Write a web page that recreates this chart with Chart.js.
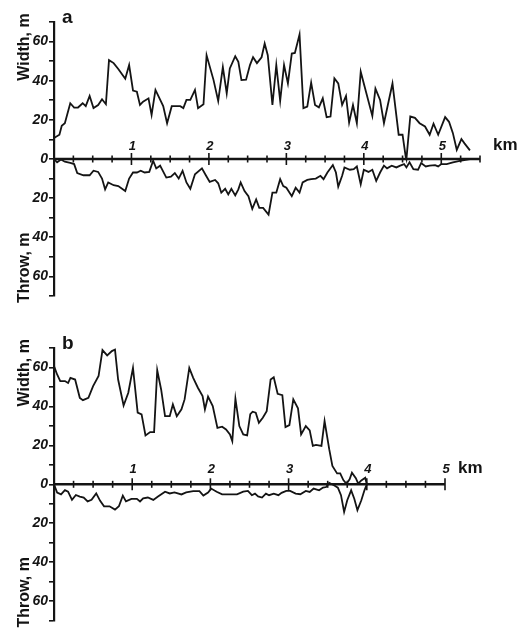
<!DOCTYPE html>
<html>
<head>
<meta charset="utf-8">
<script src="https://cdn.jsdelivr.net/npm/chart.js@4.4.0/dist/chart.umd.min.js"></script>
<style>
  html, body { margin: 0; padding: 0; background: #fff; }
  #wrap { position: relative; width: 526px; height: 630px; }
  canvas { position: absolute; left: 0; }
  #chartA { top: 0; }
  #chartB { top: 320px; }
</style>
</head>
<body>
<div id="wrap">
  <canvas id="chartA" width="526" height="320"></canvas>
  <canvas id="chartB" width="526" height="310"></canvas>
</div>
<script>
// tick labels
const kmLabels = [1, 2, 3, 4, 5];
const depthTicks = [0, 20, 40, 60];

// panel a - width (m) along strike (km)
const aWidthKm = [0, 0.07, 0.10, 0.14, 0.21, 0.26, 0.31, 0.37, 0.41, 0.46, 0.51, 0.57, 0.62, 0.67, 0.71, 0.77, 0.83, 0.92, 0.97, 1.02,
  1.07, 1.11, 1.15, 1.22, 1.26, 1.31, 1.41, 1.46, 1.52, 1.63, 1.67, 1.71, 1.76, 1.82, 1.86, 1.93, 1.97, 2.06, 2.12, 2.18,
  2.23, 2.27, 2.34, 2.38, 2.42, 2.48, 2.53, 2.57, 2.62, 2.68, 2.72, 2.76, 2.82, 2.87, 2.92, 2.97, 3.02, 3.07, 3.11, 3.17,
  3.22, 3.27, 3.32, 3.37, 3.42, 3.47, 3.52, 3.57, 3.62, 3.67, 3.72, 3.77, 3.81, 3.86, 3.91, 3.96, 4.01, 4.11, 4.15, 4.21,
  4.26, 4.31, 4.37, 4.45, 4.50, 4.54, 4.55, 4.60, 4.66, 4.72, 4.79, 4.85, 4.90, 4.96, 5.05, 5.10, 5.15, 5.20, 5.26, 5.30, 5.37];
const aWidthM = [10.7, 12.4, 17, 18.3, 28.5, 26.3, 26.3, 28.5, 27, 32.2, 26, 27.6, 30.5, 28, 50.5, 49, 46, 41, 48, 35,
  34.4, 27.6, 29.3, 31, 22.5, 35.3, 27, 18.3, 27, 27, 26, 30.2, 30.2, 35.3, 26, 28, 53, 40.3, 29.7, 47,
  33.6, 46.3, 52.5, 49.7, 40.3, 40.5, 48, 52, 49, 52, 59, 53, 27.6, 48, 29.7, 48, 38.6, 53.9, 54.2, 63.6,
  26, 26.8, 39, 27.6, 26.4, 31, 21.4, 21.7, 41.2, 38.6, 27.6, 32.2, 18.6, 27.6, 18.3, 44.6, 37, 22, 36, 30.2,
  18.3, 27.6, 38.6, 12.4, 12.4, 1.4, 0, 21.7, 21, 18.3, 16.6, 12.4, 18, 12.4, 21.4, 19, 13.2, 4.7, 10.2, 8, 4.4];

// panel a - throw (m), drawn downwards
const aThrowKm = [0, 0.04, 0.09, 0.14, 0.21, 0.26, 0.30, 0.38, 0.46, 0.51, 0.57, 0.62, 0.66, 0.70, 0.77, 0.83, 0.92, 0.97, 1.02, 1.07,
  1.12, 1.17, 1.23, 1.28, 1.32, 1.37, 1.45, 1.51, 1.56, 1.61, 1.66, 1.71, 1.76, 1.82, 1.91, 1.96, 2.01, 2.08, 2.12, 2.16,
  2.21, 2.25, 2.29, 2.34, 2.38, 2.41, 2.46, 2.51, 2.56, 2.61, 2.65, 2.70, 2.77, 2.82, 2.87, 2.92, 2.96, 3.00, 3.07, 3.12,
  3.17, 3.21, 3.27, 3.32, 3.38, 3.44, 3.48, 3.53, 3.60, 3.64, 3.67, 3.72, 3.75, 3.82, 3.87, 3.91, 3.96, 4.00, 4.06, 4.11,
  4.16, 4.21, 4.26, 4.30, 4.36, 4.42, 4.47, 4.52, 4.55, 4.59, 4.64, 4.70, 4.74, 4.80, 4.85, 4.92, 4.96, 5.00, 5.07, 5.15, 5.24, 5.37];
const aThrowM = [0, 1.7, 0.3, 1.4, 2, 2.6, 7.2, 8.3, 8.3, 6, 6.6, 10, 15.5, 12, 13.4, 13.8, 16.4, 10, 6.9, 6.9,
  6, 6.9, 6.6, 0.9, 4.8, 3.4, 9.5, 9, 7.2, 10, 6, 12, 15.2, 7.8, 4.8, 8.3, 11.7, 10.7, 12.4, 17.2,
  15.2, 18.1, 15.2, 18.6, 15.5, 12, 16.4, 19, 25.5, 20.7, 25, 25, 28.4, 17.2, 17.2, 10.3, 13.8, 14.7, 19, 14.7,
  17.2, 12, 10.7, 10.3, 10, 8.6, 10.3, 6.9, 3.1, 6.9, 14.1, 8.6, 4.3, 5.5, 5.2, 3.8, 12.9, 5.5, 6.6, 5.5,
  11.2, 6.9, 3.4, 4.8, 3.4, 4.3, 3.4, 2.6, 4.3, 1.7, 5.2, 5.5, 2.1, 3.8, 3.4, 3.1, 3.8, 2.6, 2.6, 1.7, 0.9, 0];

// panel b - width (m)
const bWidthKm = [0, 0.04, 0.08, 0.14, 0.18, 0.21, 0.27, 0.33, 0.37, 0.44, 0.50, 0.57, 0.62, 0.68, 0.74, 0.78, 0.82, 0.89, 0.95, 1.01,
  1.07, 1.12, 1.17, 1.23, 1.28, 1.32, 1.37, 1.42, 1.48, 1.52, 1.57, 1.63, 1.67, 1.73, 1.78, 1.84, 1.90, 1.93, 1.97, 2.03,
  2.09, 2.15, 2.20, 2.25, 2.28, 2.32, 2.37, 2.42, 2.47, 2.51, 2.54, 2.58, 2.62, 2.67, 2.72, 2.77, 2.81, 2.86, 2.92, 2.96,
  3.01, 3.06, 3.12, 3.16, 3.22, 3.27, 3.31, 3.35, 3.42, 3.46, 3.52, 3.56, 3.62, 3.66, 3.70, 3.74, 3.78, 3.81, 3.86, 3.89,
  3.93, 3.98, 4.00];
const bWidthM = [60.7, 56.4, 53, 53, 52, 54.7, 53.8, 44.4, 43.2, 44.4, 50.4, 55.6, 68.9, 66.2, 68.4, 69.2, 53.8, 40.5, 47, 59.8,
  36.8, 35.9, 25.1, 26.8, 26.8, 58.6, 48.7, 35, 35, 41, 35, 38.5, 43.6, 59.8, 54.7, 49.6, 45.3, 38.5, 45, 40.2,
  29, 29.6, 28.2, 25.6, 22.2, 44, 29.9, 25.6, 25.1, 36, 37.3, 36.8, 31.6, 34.2, 37.6, 53.8, 55, 46.5, 45.8, 29.4,
  30.4, 43.6, 39, 25.6, 29.9, 27.7, 19.7, 20.2, 19.7, 32.5, 17.9, 9.4, 5.6, 5.6, 2.2, 0.3, 2.6, 6, 3.1, 0.3,
  2, 3.4, 0];

// panel b - throw (m), drawn downwards
const bThrowKm = [0, 0.04, 0.09, 0.14, 0.18, 0.23, 0.28, 0.33, 0.38, 0.43, 0.48, 0.54, 0.59, 0.64, 0.71, 0.78, 0.83, 0.88, 0.92, 0.99,
  1.06, 1.10, 1.14, 1.20, 1.27, 1.33, 1.42, 1.48, 1.54, 1.63, 1.69, 1.78, 1.86, 1.91, 1.97, 2.01, 2.08, 2.15, 2.25, 2.34,
  2.42, 2.48, 2.53, 2.57, 2.61, 2.66, 2.71, 2.75, 2.81, 2.87, 2.91, 2.97, 3.02, 3.09, 3.15, 3.22, 3.27, 3.32, 3.39, 3.44,
  3.48, 3.52, 3.58, 3.63, 3.67, 3.71, 3.75, 3.80, 3.84, 3.88, 3.93, 3.97, 4.00];
const bThrowM = [0, 4.2, 5.2, 3, 3.8, 8, 5.5, 6.3, 6.8, 8.8, 8, 4.7, 8.5, 11.3, 11.3, 13, 11.3, 5.8, 8.8, 7.5,
  7.5, 8.8, 7.2, 6.8, 8, 6.3, 3.8, 4.7, 4.2, 5.2, 4.2, 3.5, 3.5, 5.8, 4.2, 2.2, 3.8, 5.2, 5.2, 5.2,
  3.8, 3.4, 5.6, 4.8, 6.2, 6.8, 4.8, 5.6, 4.8, 5.6, 4.4, 3.4, 3.4, 4.8, 5.1, 3.4, 3.9, 2.2, 3.1, 1.7,
  1.4, -0.7, 0.5, 1.7, 5.6, 14.2, 8.2, 3.1, 7.4, 13.3, 8.2, 3.1, 0];

const INK = '#141414';
const FONT = '"Liberation Sans", Arial, sans-serif';

function pairs(xs, ys, sign) {
    return xs.map((x, i) => ({ x: x, y: sign * ys[i] }));
}

// km axis through zero, panel letter and the two y titles
const profileAxes = {
    id: 'profileAxes',
    afterDraw(chart, args, opts) {
        const ctx = chart.ctx;
        const xs = chart.scales.x;
        const ys = chart.scales.y;
        const area = chart.chartArea;
        const y0 = ys.getPixelForValue(0);
        ctx.save();
        ctx.strokeStyle = INK;
        ctx.fillStyle = INK;

        ctx.lineWidth = 2.4;
        ctx.beginPath();
        ctx.moveTo(xs.getPixelForValue(0), y0);
        ctx.lineTo(xs.getPixelForValue(opts.xEnd), y0);
        ctx.stroke();

        ctx.lineWidth = 1.6;
        for (let k = 0.25; k <= opts.xEnd + 1e-6; k += 0.25) {
            const px = xs.getPixelForValue(k);
            const major = Math.abs(k - Math.round(k)) < 1e-6;
            const h = major ? 6 : 3.5;
            ctx.beginPath();
            ctx.moveTo(px, y0 - h);
            ctx.lineTo(px, y0 + h);
            ctx.stroke();
        }

        ctx.font = 'italic bold 13px ' + FONT;
        ctx.textAlign = 'center';
        ctx.textBaseline = 'alphabetic';
        kmLabels.forEach(k => ctx.fillText(String(k), xs.getPixelForValue(k) + 1, y0 - opts.labelGap));

        ctx.font = 'bold 17px ' + FONT;
        ctx.textAlign = 'left';
        ctx.fillText('km', xs.getPixelForValue(opts.xEnd) + 13, y0 - opts.labelGap);

        ctx.font = 'bold 19px ' + FONT;
        ctx.fillText(opts.letter, area.left + 8, area.top + 1);

        // rotated titles
        ctx.font = 'bold 16px ' + FONT;
        ctx.textBaseline = 'middle';
        ctx.save();
        ctx.translate(25, ys.getPixelForValue(40));
        ctx.rotate(-Math.PI / 2);
        ctx.fillText('Width, m', 0, 0);
        ctx.restore();
        ctx.save();
        ctx.translate(25, area.bottom + 7);
        ctx.rotate(-Math.PI / 2);
        ctx.fillText('Throw, m', 0, 0);
        ctx.restore();

        ctx.restore();
    }
};

function makePanel(canvasId, cfg) {
    const lineStyle = {
        borderColor: INK,
        borderWidth: 1.8,
        pointRadius: 0,
        tension: 0,
        fill: false
    };
    return new Chart(document.getElementById(canvasId), {
        type: 'line',
        data: {
            datasets: [
                Object.assign({ data: pairs(cfg.widthKm, cfg.widthM, 1) }, lineStyle),
                Object.assign({ data: pairs(cfg.throwKm, cfg.throwM, -1) }, lineStyle)
            ]
        },
        options: {
            responsive: false,
            animation: false,
            layout: { padding: { left: 0, right: cfg.padRight, top: cfg.padTop, bottom: cfg.padBottom } },
            plugins: {
                legend: { display: false },
                tooltip: { enabled: false },
                profileAxes: { xEnd: cfg.xMax, letter: cfg.letter, labelGap: cfg.labelGap }
            },
            scales: {
                x: { type: 'linear', min: 0, max: cfg.xMax, display: false },
                y: {
                    min: -70,
                    max: 70,
                    afterFit: s => { s.width = 54; },
                    ticks: {
                        stepSize: 10,
                        autoSkip: false,
                        padding: 1,
                        color: INK,
                        font: { family: FONT, size: 14, style: 'italic', weight: 'bold' },
                        callback: v => depthTicks.includes(Math.abs(v)) ? String(Math.abs(v)) : ''
                    },
                    grid: { drawOnChartArea: false, drawTicks: true, tickLength: 5, color: INK, lineWidth: 1.6 },
                    border: { display: true, color: INK, width: 2.2 }
                }
            }
        },
        plugins: [profileAxes]
    });
}

makePanel('chartA', {
    widthKm: aWidthKm, widthM: aWidthM, throwKm: aThrowKm, throwM: aThrowM,
    xMax: 5.5, letter: 'a', labelGap: 9,
    padRight: 46, padTop: 22, padBottom: 24
});

makePanel('chartB', {
    widthKm: bWidthKm, widthM: bWidthM, throwKm: bThrowKm, throwM: bThrowM,
    xMax: 5, letter: 'b', labelGap: 11,
    padRight: 81, padTop: 28, padBottom: 8
});
</script>
</body>
</html>
